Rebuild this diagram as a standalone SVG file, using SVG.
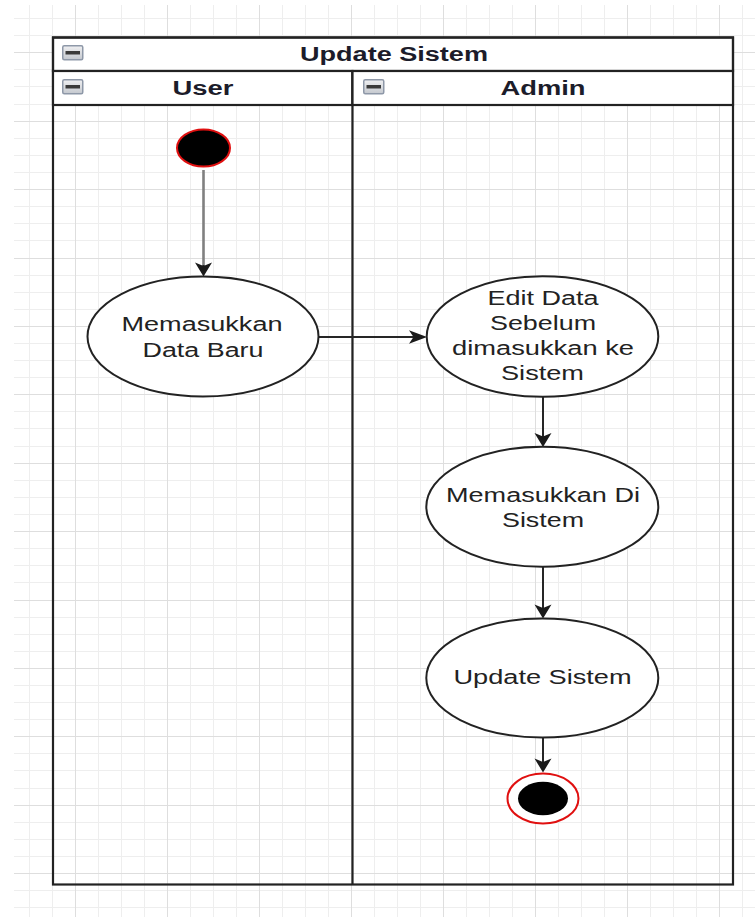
<svg xmlns="http://www.w3.org/2000/svg" xmlns:xlink="http://www.w3.org/1999/xlink" width="755" height="917" viewBox="0 0 755 917">
  <style>
    .minor { stroke: #eeeeee; stroke-width: 1; fill: none; }
    .major { stroke: #dedede; stroke-width: 1; fill: none; }
    .frame { stroke: #222222; stroke-width: 2.2; fill: none; }
    .hdr { fill: #ffffff; stroke: #222222; stroke-width: 2.2; }
    .hdrText { font-family: "Liberation Sans", Arial, sans-serif; font-size: 20px; font-weight: bold; fill: #1c1c2a; text-anchor: middle; }
    .act { fill: #ffffff; stroke: #222222; stroke-width: 2; }
    .actText { font-family: "Liberation Sans", Arial, sans-serif; font-size: 20px; fill: #222222; text-anchor: middle; }
    .edge { stroke: #262626; stroke-width: 2; fill: none; }
    .edgeGrey { stroke: #808080; stroke-width: 2.6; fill: none; }
    .head { fill: #1a1a1a; stroke: none; }
  </style>
  <defs>
    <linearGradient id="iconFill" x1="0" y1="0" x2="0" y2="1">
      <stop offset="0" stop-color="#f0f0f2"/>
      <stop offset="1" stop-color="#c4c8ce"/>
    </linearGradient>
    <g id="minIcon">
      <rect x="0.75" y="0.75" width="20" height="14" rx="1.5" fill="url(#iconFill)" stroke="#8e98a8" stroke-width="1.5"/>
      <rect x="3.5" y="6" width="14.5" height="3.5" fill="#3a3a3a"/>
    </g>
    <marker id="arrDown" markerUnits="userSpaceOnUse" viewBox="-10 -6 20 18" markerWidth="20" markerHeight="18" refX="0" refY="0" orient="0">
      <path class="head" d="M0,10 L-8.5,-4 L0,-0.5 L8.5,-4 Z"/>
    </marker>
    <marker id="arrRight" markerUnits="userSpaceOnUse" viewBox="-8 -8 22 16" markerWidth="22" markerHeight="16" refX="0" refY="0" orient="0">
      <path class="head" d="M12,0 L-6,-6.7 L-1.5,0 L-6,6.7 Z"/>
    </marker>
  </defs>

  <rect x="0" y="0" width="755" height="917" fill="#ffffff"/>

  <g id="grid">
    <path class="minor" d="M29.5,5V917 M52.5,5V917 M98.5,5V917 M121.5,5V917 M144.5,5V917 M190.5,5V917 M213.5,5V917 M236.5,5V917 M282.5,5V917 M305.5,5V917 M328.5,5V917 M374.5,5V917 M397.5,5V917 M420.5,5V917 M466.5,5V917 M489.5,5V917 M512.5,5V917 M558.5,5V917 M581.5,5V917 M604.5,5V917 M650.5,5V917 M673.5,5V917 M696.5,5V917 M742.5,5V917"/>
    <path class="minor" d="M14,18.5H755 M14,35.5H755 M14,69.5H755 M14,86.5H755 M14,104.5H755 M14,138.5H755 M14,155.5H755 M14,172.5H755 M14,206.5H755 M14,223.5H755 M14,240.5H755 M14,275.5H755 M14,292.5H755 M14,309.5H755 M14,343.5H755 M14,360.5H755 M14,377.5H755 M14,411.5H755 M14,428.5H755 M14,446.5H755 M14,480.5H755 M14,497.5H755 M14,514.5H755 M14,548.5H755 M14,565.5H755 M14,582.5H755 M14,617.5H755 M14,634.5H755 M14,651.5H755 M14,685.5H755 M14,702.5H755 M14,719.5H755 M14,753.5H755 M14,770.5H755 M14,788.5H755 M14,822.5H755 M14,839.5H755 M14,856.5H755 M14,890.5H755 M14,907.5H755"/>
    <path class="major" d="M75.5,5V917 M167.5,5V917 M259.5,5V917 M351.5,5V917 M443.5,5V917 M535.5,5V917 M627.5,5V917 M719.5,5V917"/>
    <path class="major" d="M14,52.5H755 M14,121.5H755 M14,189.5H755 M14,258.5H755 M14,326.5H755 M14,394.5H755 M14,463.5H755 M14,531.5H755 M14,600.5H755 M14,668.5H755 M14,736.5H755 M14,805.5H755 M14,873.5H755"/>
  </g>

  <g id="pool">
    <rect class="hdr" x="53" y="37.5" width="680" height="33.5"/>
    <use xlink:href="#minIcon" href="#minIcon" x="62" y="45"/>
    <text class="hdrText" x="394" y="61" textLength="188" lengthAdjust="spacingAndGlyphs">Update Sistem</text>
    <rect class="frame" x="53" y="37.5" width="680" height="847"/>
  </g>

  <g id="lane-user">
    <rect class="hdr" x="53" y="71" width="299.5" height="34"/>
    <use xlink:href="#minIcon" href="#minIcon" x="62" y="79"/>
    <text class="hdrText" x="203" y="95" textLength="61" lengthAdjust="spacingAndGlyphs">User</text>
    <line class="frame" x1="352.5" y1="71" x2="352.5" y2="884.5"/>
  </g>

  <g id="lane-admin">
    <rect class="hdr" x="352.5" y="71" width="380.5" height="34"/>
    <use xlink:href="#minIcon" href="#minIcon" x="363" y="79"/>
    <text class="hdrText" x="543" y="95" textLength="85" lengthAdjust="spacingAndGlyphs">Admin</text>
  </g>

  <g id="connectors">
    <line class="edgeGrey" x1="203.5" y1="170" x2="203.5" y2="266.5"/>
    <line class="edge" x1="203.5" y1="265" x2="203.5" y2="266.5" marker-end="url(#arrDown)"/>
    <line class="edge" x1="318.5" y1="337" x2="415" y2="337" marker-end="url(#arrRight)"/>
    <line class="edge" x1="543" y1="397" x2="543" y2="437" marker-end="url(#arrDown)"/>
    <line class="edge" x1="543" y1="567" x2="543" y2="608.5" marker-end="url(#arrDown)"/>
    <line class="edge" x1="543" y1="737.5" x2="543" y2="762.5" marker-end="url(#arrDown)"/>
  </g>

  <g id="start">
    <ellipse cx="203.5" cy="148" rx="26.5" ry="18.5" fill="#000000" stroke="#e01010" stroke-width="2"/>
  </g>

  <g id="act-memasukkan-data-baru">
    <ellipse class="act" cx="203" cy="336.5" rx="115.5" ry="60"/>
    <text class="actText" x="202" y="331" textLength="161" lengthAdjust="spacingAndGlyphs">Memasukkan</text>
    <text class="actText" x="203" y="357" textLength="121" lengthAdjust="spacingAndGlyphs">Data Baru</text>
  </g>

  <g id="act-edit-data">
    <ellipse class="act" cx="542.5" cy="336.5" rx="115.8" ry="60.3"/>
    <text class="actText" x="543" y="305" textLength="111" lengthAdjust="spacingAndGlyphs">Edit Data</text>
    <text class="actText" x="543" y="330" textLength="106" lengthAdjust="spacingAndGlyphs">Sebelum</text>
    <text class="actText" x="543" y="355" textLength="182" lengthAdjust="spacingAndGlyphs">dimasukkan ke</text>
    <text class="actText" x="542.5" y="380" textLength="83" lengthAdjust="spacingAndGlyphs">Sistem</text>
  </g>

  <g id="act-memasukkan-di-sistem">
    <ellipse class="act" cx="542.3" cy="506.8" rx="116" ry="60"/>
    <text class="actText" x="543" y="502" textLength="194" lengthAdjust="spacingAndGlyphs">Memasukkan Di</text>
    <text class="actText" x="543" y="527" textLength="82" lengthAdjust="spacingAndGlyphs">Sistem</text>
  </g>

  <g id="act-update-sistem">
    <ellipse class="act" cx="542.3" cy="678" rx="116" ry="59.5"/>
    <text class="actText" x="542.5" y="684" textLength="178" lengthAdjust="spacingAndGlyphs">Update Sistem</text>
  </g>

  <g id="end">
    <ellipse cx="543" cy="798.5" rx="35.5" ry="25" fill="#ffffff" stroke="#e01010" stroke-width="2"/>
    <ellipse cx="543" cy="798.5" rx="25" ry="16.7" fill="#000000"/>
  </g>
</svg>
